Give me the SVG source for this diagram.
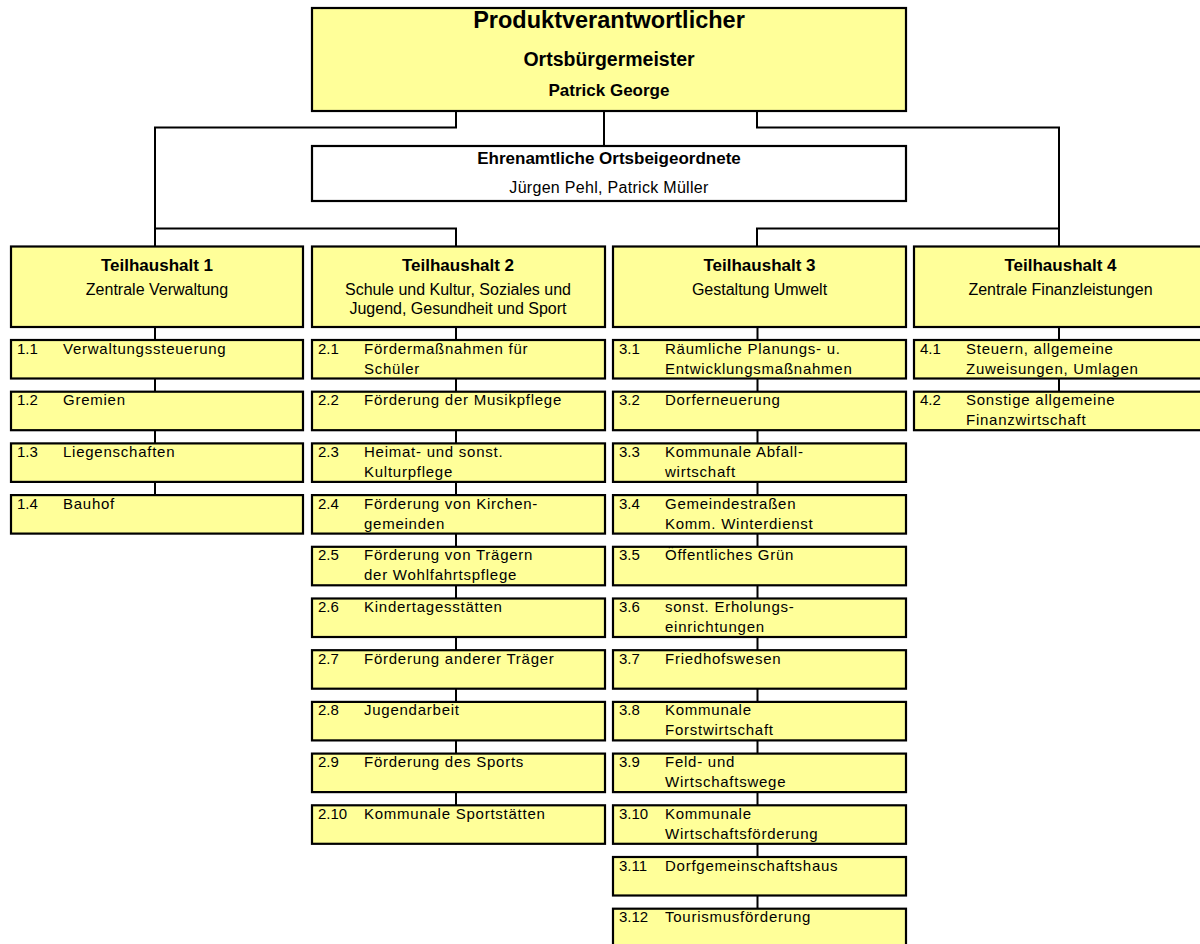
<svg xmlns="http://www.w3.org/2000/svg" width="1200" height="944" viewBox="0 0 1200 944">
<style>
.bx{fill:#FFFF99;stroke:#000;stroke-width:2.2}
.wb{fill:#fff;stroke:#000;stroke-width:2.2}
.cn{fill:none;stroke:#000;stroke-width:2}
text{font-family:"Liberation Sans",Arial,sans-serif;fill:#000}
.t{font-size:17px;font-weight:bold;text-anchor:middle}
.h{font-size:16px;text-anchor:middle}
.s{font-size:15px;letter-spacing:0.75px}
.n{font-size:15px}
</style>
<rect width="1200" height="944" fill="#fff"/>
<g id="connectors">
<path class="cn" d="M456 111 V127.5 H155 V246.5"/>
<path class="cn" d="M604 111 V146"/>
<path class="cn" d="M757 111 V127.5 H1059 V246.5"/>
<path class="cn" d="M155 228.5 H456 V246.5"/>
<path class="cn" d="M757 246.5 V228.5 H1059"/>
<path class="cn" d="M155 327 V495"/>
<path class="cn" d="M456 327 V806"/>
<path class="cn" d="M757.5 327 V909"/>
<path class="cn" d="M1059 327 V392"/>
</g>
<g id="top">
<rect class="bx" x="312" y="8" width="594" height="103"/>
<text class="t" x="609" y="28" style="font-size:23.5px">Produktverantwortlicher</text>
<text class="t" x="609" y="66" style="font-size:19.5px">Ortsbürgermeister</text>
<text class="t" x="609" y="96">Patrick George</text>
</g>
<g id="beigeordnete">
<rect class="wb" x="312" y="146" width="594" height="55"/>
<text class="t" x="609" y="164">Ehrenamtliche Ortsbeigeordnete</text>
<text class="h" x="609" y="193" style="letter-spacing:0.3px">Jürgen Pehl, Patrick Müller</text>
</g>
<g id="th1">
<rect class="bx" x="11" y="246.5" width="292" height="80.5"/>
<text class="t" x="157" y="271">Teilhaushalt 1</text>
<text class="h" x="157" y="295">Zentrale Verwaltung</text>
</g>
<g id="th2">
<rect class="bx" x="312" y="246.5" width="293" height="80.5"/>
<text class="t" x="458" y="271">Teilhaushalt 2</text>
<text class="h" x="458" y="295">Schule und Kultur, Soziales und</text>
<text class="h" x="458" y="314">Jugend, Gesundheit und Sport</text>
</g>
<g id="th3">
<rect class="bx" x="613" y="246.5" width="293" height="80.5"/>
<text class="t" x="759.5" y="271">Teilhaushalt 3</text>
<text class="h" x="759.5" y="295">Gestaltung Umwelt</text>
</g>
<g id="th4">
<rect class="bx" x="914" y="246.5" width="293" height="80.5"/>
<text class="t" x="1060.5" y="271">Teilhaushalt 4</text>
<text class="h" x="1060.5" y="295">Zentrale Finanzleistungen</text>
</g>
<g id="p1-1"><rect class="bx" x="11" y="340" width="292" height="38.5"/><text class="n" x="17" y="353.5">1.1</text><text class="s" x="63" y="353.5">Verwaltungssteuerung</text></g>
<g id="p1-2"><rect class="bx" x="11" y="391.7" width="292" height="38.5"/><text class="n" x="17" y="405.2">1.2</text><text class="s" x="63" y="405.2">Gremien</text></g>
<g id="p1-3"><rect class="bx" x="11" y="443.4" width="292" height="38.5"/><text class="n" x="17" y="456.9">1.3</text><text class="s" x="63" y="456.9">Liegenschaften</text></g>
<g id="p1-4"><rect class="bx" x="11" y="495.1" width="292" height="38.5"/><text class="n" x="17" y="508.6">1.4</text><text class="s" x="63" y="508.6">Bauhof</text></g>

<g id="p2-1"><rect class="bx" x="312" y="340" width="293" height="38.5"/><text class="n" x="318" y="353.5">2.1</text><text class="s" x="364" y="353.5">Fördermaßnahmen für</text><text class="s" x="364" y="373.5">Schüler</text></g>
<g id="p2-2"><rect class="bx" x="312" y="391.7" width="293" height="38.5"/><text class="n" x="318" y="405.2">2.2</text><text class="s" x="364" y="405.2">Förderung der Musikpflege</text></g>
<g id="p2-3"><rect class="bx" x="312" y="443.4" width="293" height="38.5"/><text class="n" x="318" y="456.9">2.3</text><text class="s" x="364" y="456.9">Heimat- und sonst.</text><text class="s" x="364" y="476.9">Kulturpflege</text></g>
<g id="p2-4"><rect class="bx" x="312" y="495.1" width="293" height="38.5"/><text class="n" x="318" y="508.6">2.4</text><text class="s" x="364" y="508.6">Förderung von Kirchen-</text><text class="s" x="364" y="528.6">gemeinden</text></g>
<g id="p2-5"><rect class="bx" x="312" y="546.8" width="293" height="38.5"/><text class="n" x="318" y="560.3">2.5</text><text class="s" x="364" y="560.3">Förderung von Trägern</text><text class="s" x="364" y="580.3">der Wohlfahrtspflege</text></g>
<g id="p2-6"><rect class="bx" x="312" y="598.5" width="293" height="38.5"/><text class="n" x="318" y="612">2.6</text><text class="s" x="364" y="612">Kindertagesstätten</text></g>
<g id="p2-7"><rect class="bx" x="312" y="650.2" width="293" height="38.5"/><text class="n" x="318" y="663.7">2.7</text><text class="s" x="364" y="663.7">Förderung anderer Träger</text></g>
<g id="p2-8"><rect class="bx" x="312" y="701.9" width="293" height="38.5"/><text class="n" x="318" y="715.4">2.8</text><text class="s" x="364" y="715.4">Jugendarbeit</text></g>
<g id="p2-9"><rect class="bx" x="312" y="753.6" width="293" height="38.5"/><text class="n" x="318" y="767.1">2.9</text><text class="s" x="364" y="767.1">Förderung des Sports</text></g>
<g id="p2-10"><rect class="bx" x="312" y="805.3" width="293" height="38.5"/><text class="n" x="318" y="818.8">2.10</text><text class="s" x="364" y="818.8">Kommunale Sportstätten</text></g>

<g id="p3-1"><rect class="bx" x="613" y="340" width="293" height="38.5"/><text class="n" x="619" y="353.5">3.1</text><text class="s" x="665" y="353.5">Räumliche Planungs- u.</text><text class="s" x="665" y="373.5">Entwicklungsmaßnahmen</text></g>
<g id="p3-2"><rect class="bx" x="613" y="391.7" width="293" height="38.5"/><text class="n" x="619" y="405.2">3.2</text><text class="s" x="665" y="405.2">Dorferneuerung</text></g>
<g id="p3-3"><rect class="bx" x="613" y="443.4" width="293" height="38.5"/><text class="n" x="619" y="456.9">3.3</text><text class="s" x="665" y="456.9">Kommunale Abfall-</text><text class="s" x="665" y="476.9">wirtschaft</text></g>
<g id="p3-4"><rect class="bx" x="613" y="495.1" width="293" height="38.5"/><text class="n" x="619" y="508.6">3.4</text><text class="s" x="665" y="508.6">Gemeindestraßen</text><text class="s" x="665" y="528.6">Komm. Winterdienst</text></g>
<g id="p3-5"><rect class="bx" x="613" y="546.8" width="293" height="38.5"/><text class="n" x="619" y="560.3">3.5</text><text class="s" x="665" y="560.3">Öffentliches Grün</text></g>
<g id="p3-6"><rect class="bx" x="613" y="598.5" width="293" height="38.5"/><text class="n" x="619" y="612">3.6</text><text class="s" x="665" y="612">sonst. Erholungs-</text><text class="s" x="665" y="632">einrichtungen</text></g>
<g id="p3-7"><rect class="bx" x="613" y="650.2" width="293" height="38.5"/><text class="n" x="619" y="663.7">3.7</text><text class="s" x="665" y="663.7">Friedhofswesen</text></g>
<g id="p3-8"><rect class="bx" x="613" y="701.9" width="293" height="38.5"/><text class="n" x="619" y="715.4">3.8</text><text class="s" x="665" y="715.4">Kommunale</text><text class="s" x="665" y="735.4">Forstwirtschaft</text></g>
<g id="p3-9"><rect class="bx" x="613" y="753.6" width="293" height="38.5"/><text class="n" x="619" y="767.1">3.9</text><text class="s" x="665" y="767.1">Feld- und</text><text class="s" x="665" y="787.1">Wirtschaftswege</text></g>
<g id="p3-10"><rect class="bx" x="613" y="805.3" width="293" height="38.5"/><text class="n" x="619" y="818.8">3.10</text><text class="s" x="665" y="818.8">Kommunale</text><text class="s" x="665" y="838.8">Wirtschaftsförderung</text></g>
<g id="p3-11"><rect class="bx" x="613" y="857" width="293" height="38.5"/><text class="n" x="619" y="870.5">3.11</text><text class="s" x="665" y="870.5">Dorfgemeinschaftshaus</text></g>
<g id="p3-12"><rect class="bx" x="613" y="908.7" width="293" height="38.5"/><text class="n" x="619" y="922.2">3.12</text><text class="s" x="665" y="922.2">Tourismusförderung</text></g>

<g id="p4-1"><rect class="bx" x="914" y="340" width="293" height="38.5"/><text class="n" x="920" y="353.5">4.1</text><text class="s" x="966" y="353.5">Steuern, allgemeine</text><text class="s" x="966" y="373.5">Zuweisungen, Umlagen</text></g>
<g id="p4-2"><rect class="bx" x="914" y="391.7" width="293" height="38.5"/><text class="n" x="920" y="405.2">4.2</text><text class="s" x="966" y="405.2">Sonstige allgemeine</text><text class="s" x="966" y="425.2">Finanzwirtschaft</text></g>
</svg>
